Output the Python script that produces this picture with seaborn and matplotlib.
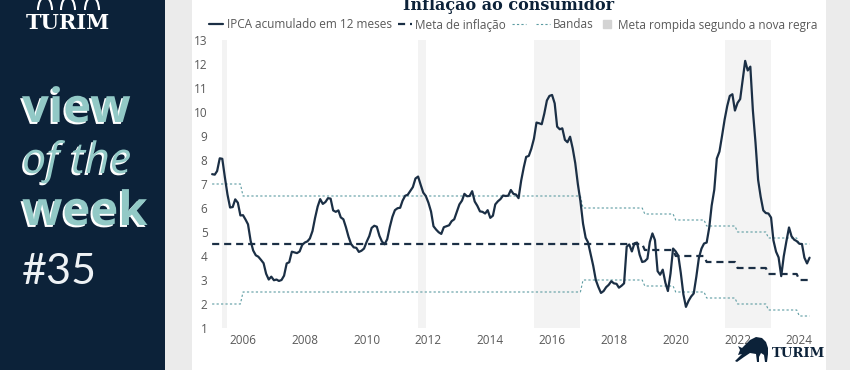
import numpy as np, pandas as pd
import matplotlib
matplotlib.use("Agg")
import matplotlib.pyplot as plt
import matplotlib.dates as mdates
import matplotlib.patheffects as pe
from matplotlib.patches import Rectangle, Polygon, Arc
from matplotlib.lines import Line2D
import seaborn as sns

# IPCA acumulado em 12 meses (%), mensal, jan/2005 - mai/2024
ipca_2005 = [7.41, 7.39, 7.54, 8.07, 8.05, 7.27, 6.57, 6.02, 6.04, 6.36, 6.22, 5.69]
ipca_2006 = [5.70, 5.51, 5.32, 4.63, 4.23, 4.03, 3.97, 3.84, 3.70, 3.26, 3.02, 3.14]
ipca_2007 = [2.99, 3.02, 2.96, 3.00, 3.18, 3.69, 3.74, 4.18, 4.15, 4.12, 4.19, 4.46]
ipca_2008 = [4.56, 4.61, 4.73, 5.04, 5.58, 6.06, 6.37, 6.17, 6.25, 6.41, 6.39, 5.90]
ipca_2009 = [5.84, 5.90, 5.61, 5.53, 5.20, 4.80, 4.50, 4.36, 4.34, 4.17, 4.22, 4.31]
ipca_2010 = [4.59, 4.83, 5.17, 5.26, 5.22, 4.84, 4.60, 4.49, 4.70, 5.20, 5.63, 5.91]
ipca_2011 = [5.99, 6.01, 6.30, 6.51, 6.55, 6.71, 6.87, 7.23, 7.31, 6.97, 6.64, 6.50]
ipca_2012 = [6.22, 5.85, 5.24, 5.10, 4.99, 4.92, 5.20, 5.24, 5.28, 5.45, 5.53, 5.84]
ipca_2013 = [6.15, 6.31, 6.59, 6.49, 6.50, 6.70, 6.27, 6.09, 5.86, 5.84, 5.77, 5.91]
ipca_2014 = [5.59, 5.68, 6.15, 6.28, 6.37, 6.52, 6.50, 6.51, 6.75, 6.59, 6.56, 6.41]
ipca_2015 = [7.14, 7.70, 8.13, 8.17, 8.47, 8.89, 9.56, 9.53, 9.49, 9.93, 10.48, 10.67]
ipca_2016 = [10.71, 10.36, 9.39, 9.28, 9.32, 8.84, 8.74, 8.97, 8.48, 7.87, 6.99, 6.29]
ipca_2017 = [5.35, 4.76, 4.57, 4.08, 3.60, 3.00, 2.71, 2.46, 2.54, 2.70, 2.80, 2.95]
ipca_2018 = [2.86, 2.84, 2.68, 2.76, 2.86, 4.39, 4.48, 4.19, 4.53, 4.56, 4.05, 3.75]
ipca_2019 = [3.78, 3.89, 4.58, 4.94, 4.66, 3.37, 3.22, 3.43, 2.89, 2.54, 3.27, 4.31]
ipca_2020 = [4.19, 4.01, 3.30, 2.40, 1.88, 2.13, 2.31, 2.44, 3.14, 3.92, 4.31, 4.52]
ipca_2021 = [4.56, 5.20, 6.10, 6.76, 8.06, 8.35, 8.99, 9.68, 10.25, 10.67, 10.74, 10.06]
ipca_2022 = [10.38, 10.54, 11.30, 12.13, 11.73, 11.89, 10.07, 8.73, 7.17, 6.47, 5.90, 5.79]
ipca_2023 = [5.77, 5.60, 4.65, 4.18, 3.94, 3.16, 3.99, 4.61, 5.19, 4.82, 4.68, 4.62]
ipca_2024 = [4.51, 4.50, 3.93, 3.69, 3.93]

# metas anuais e intervalo de tolerancia
anos = list(range(2005, 2025))
meta_anual = [4.5] * 14 + [4.25, 4.0, 3.75, 3.5, 3.25, 3.0]
tolerancia = [2.5] + [2.0] * 11 + [1.5] * 8

# periodos de meta rompida (nova regra)
rompida_inicio = ["2005-05-01", "2011-09-01", "2015-06-01", "2021-08-01"]
rompida_fim = ["2005-07-01", "2011-12-01", "2016-12-01", "2023-02-01"]

ipca = (ipca_2005 + ipca_2006 + ipca_2007 + ipca_2008 + ipca_2009 + ipca_2010 + ipca_2011
        + ipca_2012 + ipca_2013 + ipca_2014 + ipca_2015 + ipca_2016 + ipca_2017 + ipca_2018
        + ipca_2019 + ipca_2020 + ipca_2021 + ipca_2022 + ipca_2023 + ipca_2024)
n = len(ipca)
datas = pd.date_range("2005-01-01", periods=n, freq="MS")
meta = np.repeat(meta_anual, 12)[:n]
tol = np.repeat(tolerancia, 12)[:n]
df = pd.DataFrame({"data": datas, "ipca": ipca, "meta": meta,
                   "sup": meta + tol, "inf": meta - tol})

NAVY = "#0c2239"
LINHA = "#1b2f45"
BANDA = "#5d9ca2"
CINZA_TXT = "#595959"

sns.set_theme(style="white")
plt.rcParams["font.family"] = ["Open Sans", "DejaVu Sans"]

W, H = 850, 370
fig = plt.figure(figsize=(8.5, 3.7), dpi=100)
fig.patch.set_facecolor("#ebebeb")


def px(x, y):
    return x / W, 1 - y / H


# fundos
fig.patches.append(Rectangle((192 / W, 0), (826 - 192) / W, 1, transform=fig.transFigure,
                             facecolor="white", edgecolor="none", zorder=-2))
fig.patches.append(Rectangle((0, 0), 165 / W, 1, transform=fig.transFigure,
                             facecolor=NAVY, edgecolor="none", zorder=-2))

# painel esquerdo
fig.text(*px(68, 29), "TURIM", ha="center", va="baseline", fontsize=15, fontweight="bold",
         family="DejaVu Serif", color="white")
for cx in [45, 68, 92]:
    fig.patches.append(Arc(px(cx, 10), 14 / W, 26 / H, theta1=0, theta2=180,
                           transform=fig.transFigure, color="white", lw=1.5))

sombra = [pe.SimplePatchShadow(offset=(-1.4, -1.4), shadow_rgbFace="white", alpha=1), pe.Normal()]
TEAL = "#92c9c6"
fig.text(*px(22, 122), "view", fontsize=34, fontweight="bold", color=TEAL,
         va="baseline", path_effects=sombra)
fig.text(*px(22, 173), "of the", fontsize=31, style="italic", color=TEAL,
         va="baseline", path_effects=sombra)
fig.text(*px(22, 225), "week", fontsize=34, fontweight="bold", color=TEAL,
         va="baseline", path_effects=sombra)
fig.text(*px(22, 284), "#35", fontsize=31, family=["Lato", "DejaVu Sans"],
         color="#eef2f5", va="baseline")

# titulo
fig.text(*px(509, 9.5), "Inflação ao consumidor", ha="center", va="baseline", fontsize=11.5,
         fontweight="bold", family="DejaVu Serif", color=NAVY)

# grafico
l, r, t, b = 209, 816, 40, 328
ax = fig.add_axes([l / W, 1 - b / H, (r - l) / W, (b - t) / H])
ax.set_facecolor("none")

for ini, fim in zip(rompida_inicio, rompida_fim):
    ax.axvspan(pd.Timestamp(ini), pd.Timestamp(fim), color="#f3f3f3", lw=0, zorder=0)

sns.lineplot(data=df, x="data", y="sup", ax=ax, color=BANDA, lw=0.8,
             linestyle=(0, (2, 2)), estimator=None, errorbar=None)
sns.lineplot(data=df, x="data", y="inf", ax=ax, color=BANDA, lw=0.8,
             linestyle=(0, (2, 2)), estimator=None, errorbar=None)
sns.lineplot(data=df, x="data", y="meta", ax=ax, color=LINHA, lw=1.6,
             linestyle=(0, (3.2, 2.2)), estimator=None, errorbar=None)
sns.lineplot(data=df, x="data", y="ipca", ax=ax, color=LINHA, lw=1.6,
             estimator=None, errorbar=None)

ax.set_xlim(pd.Timestamp("2004-11-25"), pd.Timestamp("2024-07-16"))
ax.set_ylim(1, 13)
ax.set_yticks(range(1, 14))
ax.xaxis.set_major_locator(mdates.YearLocator(2))
ax.xaxis.set_major_formatter(mdates.DateFormatter("%Y"))
ax.set_xlabel("")
ax.set_ylabel("")
ax.tick_params(axis="both", length=0, labelsize=8.5, labelcolor=CINZA_TXT)
ax.tick_params(axis="y", pad=1)
ax.tick_params(axis="x", pad=4)
sns.despine(ax=ax, left=True, bottom=True)

# legenda
handles = [Line2D([], [], color=LINHA, lw=1.6),
           Line2D([], [], color=LINHA, lw=1.6, linestyle=(0, (3.2, 2.2))),
           Line2D([], [], color=BANDA, lw=0.8, linestyle=(0, (2, 2))),
           Line2D([], [], color=BANDA, lw=0.8, linestyle=(0, (2, 2))),
           Line2D([], [], color="#d3d3d3", marker="s", linestyle="none", markersize=6)]
labels = ["IPCA acumulado em 12 meses", "Meta de inflação", "", "Bandas",
          "Meta rompida segundo a nova regra"]
fig.legend(handles, labels, ncol=5, loc="center", bbox_to_anchor=px(513, 25), frameon=False,
           fontsize=8.5, labelcolor=CINZA_TXT, handlelength=1.2, handletextpad=0.3,
           columnspacing=0.5)

# logo inferior (touro + nome)
touro = [(3, 7), (5, 12), (3, 16), (7, 14), (10, 17), (15, 22), (21, 25), (27, 24), (31, 20),
         (33, 14), (33, 8), (32, 0), (30, 0), (29, 7), (26, 9), (24, 5), (24, 0), (22, 0),
         (21, 8), (15, 9), (9, 5), (2, 0), (0, 1), (7, 8)]
fig.patches.append(Polygon([px(735 + x, 362 - y) for x, y in touro], closed=True,
                           transform=fig.transFigure, facecolor=NAVY, edgecolor="none"))
fig.text(*px(798, 357), "TURIM", ha="center", va="baseline", fontsize=9.5, fontweight="bold",
         family="DejaVu Serif", color=NAVY)

fig.savefig("out.png", dpi=100, facecolor=fig.get_facecolor())
